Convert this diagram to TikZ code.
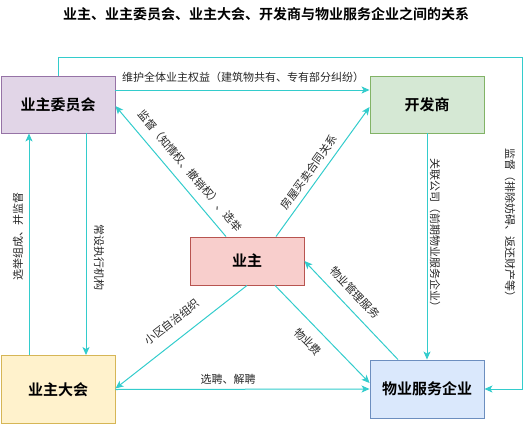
\documentclass[tikz,border=0pt]{standalone}
\usepackage{fontspec}
\setmainfont{Noto Sans CJK SC}[BoldFont={Noto Sans CJK SC Bold}]
\usetikzlibrary{arrows.meta}
\definecolor{cy}{RGB}{51,204,204}
\definecolor{pf}{HTML}{E1D5E7}\definecolor{pd}{HTML}{9673A6}
\definecolor{gf}{HTML}{D5E8D4}\definecolor{gd}{HTML}{82B366}
\definecolor{rf}{HTML}{F8CECC}\definecolor{rd}{HTML}{B85450}
\definecolor{yf}{HTML}{FFF2CC}\definecolor{yd}{HTML}{D6B656}
\definecolor{bf}{HTML}{DAE8FC}\definecolor{bd}{HTML}{6C8EBF}
\begin{document}
\begin{tikzpicture}[x=1pt,y=-1pt,
  box/.style={draw, line width=0.9pt, minimum width=114pt, inner sep=0pt,
    font=\fontsize{15}{18}\selectfont\bfseries},
  arr/.style={draw=cy, line width=1pt, -{Stealth[length=8pt,width=7pt,inset=2pt]}},
  lbl/.style={font=\fontsize{11}{13}\selectfont, inner sep=1pt, text=black!85}]
\useasboundingbox (0,0) rectangle (530,423);
\node[font=\fontsize{14}{16}\selectfont\bfseries] (title) at (266,14) {业主、业主委员会、业主大会、开发商与物业服务企业之间的关系};
\node[box, fill=pf, draw=pd, minimum height=57pt] (wyh) at (58,104.5) {业主委员会};
\node[box, fill=gf, draw=gd, minimum height=57pt] (kfs) at (427,104.5) {开发商};
\node[box, fill=rf, draw=rd, minimum height=48pt] (yz) at (247,261) {业主};
\node[box, fill=yf, draw=yd, minimum height=68pt] (dh) at (58,389.5) {业主大会};
\node[box, fill=bf, draw=bd, minimum height=58pt] (wy) at (427,389) {物业服务企业};
\coordinate (c1) at (522,57);
\coordinate (c2) at (522,389);
\coordinate (y90) at (0,90);
% connectors
\draw[arr] (wyh.north) -- (wyh.north |- c1) -- (c1) -- (c2) -- (wy.east);
\draw[arr] (wyh.east |- y90) -- (kfs.west |- y90);
\draw[arr] ([xshift=-21pt]yz.north) -- ([yshift=-1.5pt]wyh.east);
\draw[arr] ([xshift=29pt]yz.north) -- ([yshift=-2.5pt]kfs.west);
\draw[arr] ([xshift=28pt]wyh.south) -- ([xshift=28pt]dh.north);
\draw[arr] ([xshift=-29pt]dh.north) -- ([xshift=-29pt]wyh.south);
\draw[arr] (yz.south) -- ([yshift=1pt]dh.east);
\draw[arr] (dh.east) -- (wy.west);
\draw[arr] ([xshift=28pt]yz.south) -- ([yshift=6pt]wy.west);
\draw[arr] ([xshift=-29pt]wy.north) -- (yz.east);
\draw[arr] (kfs.south) -- (wy.north);
% labels
\node[lbl, rotate=-90] (l1) at (510,225) {监督（排除妨碍、返还财产等）};
\node[lbl] (l2) at (243,77) {维护全体业主权益（建筑物共有、专有部分纠纷）};
\node[lbl, rotate=-49.7] (l3) at (190,171) {监督（知情权、撤销权）、选举};
\node[lbl, rotate=54.4] (l4) at (309,172) {房屋买卖合同关系};
\node[lbl, rotate=-90] (l5) at (99,257) {常设执行机构};
\node[lbl, rotate=90] (l6) at (18,236) {选举组成、并监督};
\node[lbl, rotate=37.7] (l7) at (172,322) {小区自治组织};
\node[lbl] (l8) at (228,379) {选聘、解聘};
\node[lbl, rotate=-45.6] (l9) at (308,342) {物业费};
\node[lbl, rotate=-46.8] (l10) at (355,293) {物业管理服务};
\node[lbl, rotate=-90] (l11) at (435,235) {关联公司（前期物业服务企业）};
\end{tikzpicture}
\end{document}
